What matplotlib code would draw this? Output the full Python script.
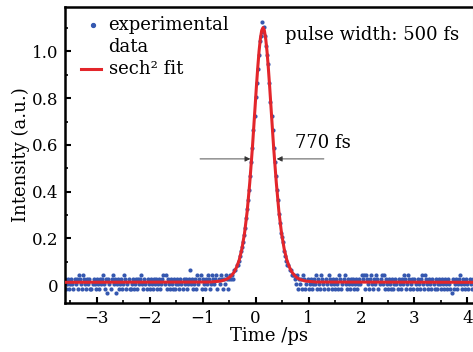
import numpy as np
import matplotlib
matplotlib.use('Agg')
import matplotlib.pyplot as plt

#==============================================================================
# Data
#==============================================================================
# sampling grid of the measured trace (ps)
t_start, t_step, t_stop = -3.60, 0.02, 4.10

# left baseline, t = -3.60 ... -0.42
base_left = [
    0.025, -0.015, 0.005, 0.025, -0.015, 0.005, 0.025, 0.005, -0.015, 0.025,
    0.005, 0.025, -0.015, 0.045, 0.025, 0.005, -0.015, 0.045, 0.025, 0.005,
    -0.015, 0.025, 0.005, 0.025, -0.015, -0.015, 0.005, 0.025, 0.005, -0.015,
    0.025, 0.005, -0.015, 0.025, 0.005, 0.025, 0.045, 0.005, -0.015, 0.025,
    -0.035, 0.025, 0.005, -0.015, 0.025, 0.045, 0.005, 0.025, -0.035, 0.005,
    0.025, -0.015, 0.005, 0.025, -0.015, 0.005, 0.045, 0.025, -0.015, 0.005,
    0.025, -0.015, -0.015, 0.005, 0.025, -0.015, 0.005, 0.025, -0.015, 0.025,
    0.005, 0.025, 0.045, 0.005, -0.015, 0.025, 0.005, -0.015, 0.025, 0.005,
    -0.015, 0.025, 0.005, -0.015, 0.025, 0.005, 0.025, -0.015, 0.005, 0.025,
    -0.015, 0.005, 0.025, 0.045, 0.005, 0.045, -0.015, 0.025, 0.005, -0.015,
    0.025, 0.005, -0.015, 0.025, -0.015, 0.005, 0.025, 0.005, -0.015, 0.025,
    0.005, -0.015, 0.025, 0.005, 0.025, -0.015, 0.005, 0.025, 0.065, 0.005,
    0.025, -0.015, 0.005, 0.025, -0.015, 0.045, 0.005, 0.025, 0.045, -0.015,
    0.025, 0.005, -0.015, 0.025, 0.005, 0.045, 0.025, -0.015, 0.005, 0.045,
    0.025, 0.005, 0.025, 0.045, -0.015, 0.025, 0.005, 0.045, 0.025, -0.015,
    0.025, 0.005, 0.045, 0.025, -0.015, 0.025, 0.045, 0.025, 0.045, 0.025,
]

# pulse, t = -0.40 ... 0.70
pulse = [
    0.065, 0.065, 0.085, 0.085, 0.105, 0.125, 0.145, 0.165, 0.185, 0.215,
    0.245, 0.285, 0.325, 0.365, 0.405, 0.465, 0.525, 0.585, 0.665, 0.725,
    0.805, 0.865, 0.925, 0.985, 1.045, 1.065, 1.125, 1.085, 1.105, 1.065,
    1.025, 0.985, 0.945, 0.865, 0.785, 0.725, 0.665, 0.585, 0.525, 0.465,
    0.405, 0.365, 0.305, 0.265, 0.225, 0.205, 0.185, 0.145, 0.125, 0.105,
    0.085, 0.085, 0.065, 0.065, 0.045, 0.045,
]

# right baseline, t = 0.72 ... 4.10
base_right = [
    0.045, 0.025, 0.005, 0.045, -0.015, 0.025, 0.005, 0.025, -0.015, 0.045,
    0.025, -0.015, 0.005, 0.025, -0.015, 0.005, 0.025, -0.015, 0.005, 0.025,
    0.005, 0.045, -0.015, 0.025, 0.005, -0.015, 0.045, 0.025, 0.005, -0.015,
    0.025, 0.005, -0.015, 0.045, 0.025, 0.005, -0.015, 0.025, 0.005, -0.015,
    0.025, 0.005, -0.015, 0.045, 0.025, -0.015, 0.005, 0.025, 0.045, 0.005,
    -0.015, 0.025, 0.005, -0.015, 0.025, 0.005, 0.025, -0.015, 0.005, 0.025,
    -0.015, 0.005, 0.025, 0.005, 0.045, 0.025, 0.045, -0.015, 0.045, 0.025,
    0.005, -0.015, 0.025, 0.045, 0.005, -0.015, 0.025, 0.005, 0.045, 0.025,
    -0.015, 0.005, 0.025, 0.045, 0.005, 0.045, -0.015, 0.025, 0.005, -0.015,
    0.025, 0.005, -0.015, 0.025, -0.015, 0.005, 0.025, 0.005, -0.015, 0.025,
    0.005, -0.015, 0.025, 0.005, 0.045, 0.025, -0.015, 0.005, 0.045, 0.025,
    -0.015, 0.005, 0.025, -0.015, 0.025, 0.005, -0.015, 0.025, 0.005, -0.015,
    0.025, 0.045, 0.005, -0.015, 0.045, 0.025, 0.005, -0.015, 0.025, 0.005,
    -0.015, 0.025, 0.005, -0.015, 0.025, -0.015, 0.005, 0.025, 0.005, -0.015,
    0.025, 0.005, -0.015, 0.025, 0.005, -0.015, 0.025, 0.005, -0.015, -0.035,
    0.025, -0.015, 0.005, 0.025, -0.015, 0.005, 0.025, 0.045, 0.005, -0.015,
    0.025, 0.005, -0.015, 0.025, 0.005, -0.015, 0.025, 0.005, -0.015, 0.025,
]

# sech^2 fit curve read at a few points
fit_t = [-3.60, -0.86, -0.66, -0.56, -0.51, -0.46, -0.41, -0.36, -0.31,
         -0.26, -0.21, -0.16, -0.11, -0.06, -0.01, 0.015, 0.04, 0.065, 0.09,
         0.115, 0.14, 0.165, 0.19, 0.215, 0.24, 0.265, 0.29, 0.34, 0.39,
         0.44, 0.49, 0.54, 0.59, 0.64, 0.69, 0.74, 0.79, 0.84, 0.94, 1.14,
         4.10]
fit_y = [0.012, 0.013, 0.017, 0.024, 0.030, 0.040, 0.054, 0.076, 0.107,
         0.154, 0.221, 0.314, 0.440, 0.590, 0.763, 0.850, 0.930, 1.001, 1.055,
         1.090, 1.102, 1.090, 1.055, 1.001, 0.930, 0.850, 0.763, 0.590, 0.440,
         0.314, 0.221, 0.154, 0.107, 0.076, 0.054, 0.040, 0.030, 0.024, 0.017,
         0.013, 0.012]

x_ticks = [-3, -2, -1, 0, 1, 2, 3, 4]
y_ticks = [0, 0.2, 0.4, 0.6, 0.8, 1.0]
y_ticklabels = ['0', '0.2', '0.4', '0.6', '0.8', '1.0']

time = np.round(np.arange(t_start, t_stop + 1e-6, t_step), 2)
intensity = np.array(base_left + pulse + base_right)

#==============================================================================
# Plot
#==============================================================================
plt.rcParams['font.family'] = ['DejaVu Serif']
plt.rcParams['font.size'] = 13

blue = '#3558b0'
red = '#e3262b'

fig = plt.figure(figsize=(4.73, 3.52), dpi=100)
ax = fig.add_axes([0.1374, 0.139, 0.862, 0.841])

ax.scatter(time, intensity, s=9, color=blue, linewidths=0, zorder=2)
ax.plot(fit_t, fit_y, color=red, linewidth=2.2, zorder=3)

ax.set_xlim(-3.6, 4.1)
ax.set_ylim(-0.077, 1.19)
ax.set_xticks(x_ticks)
ax.set_yticks(y_ticks)
ax.set_yticklabels(y_ticklabels)
ax.set_xticks(np.arange(-3.5, 4.1, 1.0), minor=True)
ax.set_yticks(np.arange(0.1, 1.2, 0.2), minor=True)
ax.tick_params(which='major', direction='in', length=4, width=1.5,
               top=False, right=False, pad=5, labelsize=12)
ax.tick_params(which='minor', direction='in', length=2.5, width=1.2,
               top=False, right=False)
for side in ['left', 'bottom', 'top']:
    ax.spines[side].set_linewidth(1.8)
ax.spines['right'].set_color('#d0d0d0')
ax.spines['right'].set_linewidth(0.8)

ax.set_xlabel('Time /ps', labelpad=0)
ax.set_ylabel('Intensity (a.u.)', labelpad=1)

# legend drawn by hand
ax.plot([0.069], [0.939], 'o', color=blue, markersize=2.8,
        transform=ax.transAxes, clip_on=False)
ax.text(0.107, 0.939, 'experimental', transform=ax.transAxes, va='center')
ax.text(0.107, 0.865, 'data', transform=ax.transAxes, va='center')
ax.plot([0.039, 0.088], [0.791, 0.791], color=red, linewidth=2.2,
        transform=ax.transAxes)
ax.text(0.107, 0.791, 'sech\u00b2 fit', transform=ax.transAxes, va='center')

ax.text(0.56, 1.07, 'pulse width: 500 fs', va='center')
ax.text(0.74, 0.61, '770 fs', va='center')

# FWHM arrows
arrow = dict(arrowstyle='-|>', color='#333333', lw=0.6,
             mutation_scale=8, shrinkA=0, shrinkB=0)
ax.annotate('', xy=(-0.10, 0.54), xytext=(-1.05, 0.54), arrowprops=arrow)
ax.annotate('', xy=(0.40, 0.54), xytext=(1.29, 0.54), arrowprops=arrow)

fig.savefig('out.png', dpi=100)
